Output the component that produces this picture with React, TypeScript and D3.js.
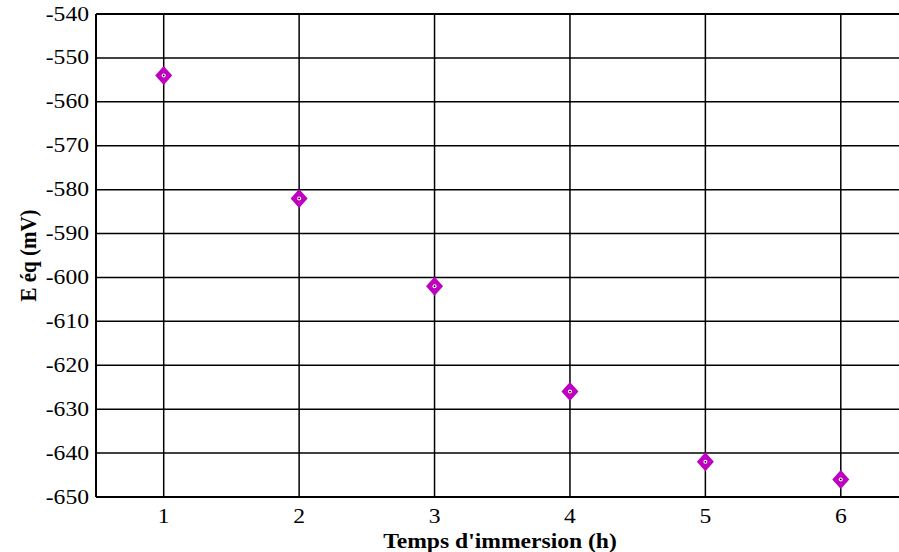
import React from "react";
import * as d3 from "d3";

// Immersion time (h) and equilibrium potential (mV)
const hours = [1, 2, 3, 4, 5, 6];
const potential = [-554, -582, -602, -626, -642, -646];
const yTicks = [-540, -550, -560, -570, -580, -590, -600, -610, -620, -630, -640, -650];
const xTicks = [1, 2, 3, 4, 5, 6];

const W = 899;
const H = 552;
const left = 96;
const top = 14;
const bottom = 497;
const stretch = 1.18;

export default function App() {
  const x = d3.scaleLinear().domain([0.5, 6.5]).range([left, 908.5]);
  const y = d3.scaleLinear().domain([-540, -650]).range([top, bottom]);
  const font = "Liberation Serif, Times New Roman, serif";
  const diamond = "M0,-9.5L8.5,0L0,9.5L-8.5,0Z";

  return (
    <svg
      width={W}
      height={H}
      style={{ position: "fixed", left: 0, top: 0, background: "#fff", fontFamily: font }}
    >
      <rect x={0} y={0} width={W} height={H} fill="#fff" />
      {/* grid */}
      {yTicks.map((t) => (
        <line key={"h" + t} x1={left} x2={W} y1={y(t)} y2={y(t)} stroke="#000" strokeWidth={1.5} />
      ))}
      {xTicks.map((t) => (
        <line key={"v" + t} x1={x(t)} x2={x(t)} y1={top} y2={bottom} stroke="#000" strokeWidth={1.5} />
      ))}
      {/* frame */}
      <line x1={left} x2={left} y1={top} y2={bottom} stroke="#000" strokeWidth={2} />
      <line x1={left} x2={W} y1={top} y2={top} stroke="#000" strokeWidth={2} />
      <line x1={left} x2={W} y1={bottom} y2={bottom} stroke="#000" strokeWidth={2} />
      {/* y tick labels */}
      {yTicks.map((t) => (
        <g key={"yl" + t} transform={`translate(89, ${y(t) + 6.5}) scale(${stretch},1)`}>
          <text textAnchor="end" fontSize={20} fill="#000" style={{ fontFamily: font }}>
            {t}
          </text>
        </g>
      ))}
      {/* x tick labels */}
      {xTicks.map((t) => (
        <g key={"xl" + t} transform={`translate(${x(t)}, 523) scale(${stretch},1)`}>
          <text textAnchor="middle" fontSize={20} fill="#000" style={{ fontFamily: font }}>
            {t}
          </text>
        </g>
      ))}
      {/* axis titles */}
      <g transform={`translate(500, 548) scale(${stretch},1)`}>
        <text textAnchor="middle" fontSize={20} fontWeight="bold" fill="#000" style={{ fontFamily: font }}>
          Temps d'immersion (h)
        </text>
      </g>
      <g transform={`translate(36, ${(top + bottom) / 2}) rotate(-90) scale(1.05,1.12)`}>
        <text textAnchor="middle" fontSize={20} fontWeight="bold" fill="#000" style={{ fontFamily: font }}>
          E éq (mV)
        </text>
      </g>
      {/* data markers */}
      {hours.map((h, i) => (
        <g key={"p" + h} transform={`translate(${x(h)}, ${y(potential[i])})`}>
          <path d={diamond} fill="#C000C0" />
          <circle r={2} fill="#fff" />
          <circle r={0.9} fill="#000" />
        </g>
      ))}
    </svg>
  );
}
